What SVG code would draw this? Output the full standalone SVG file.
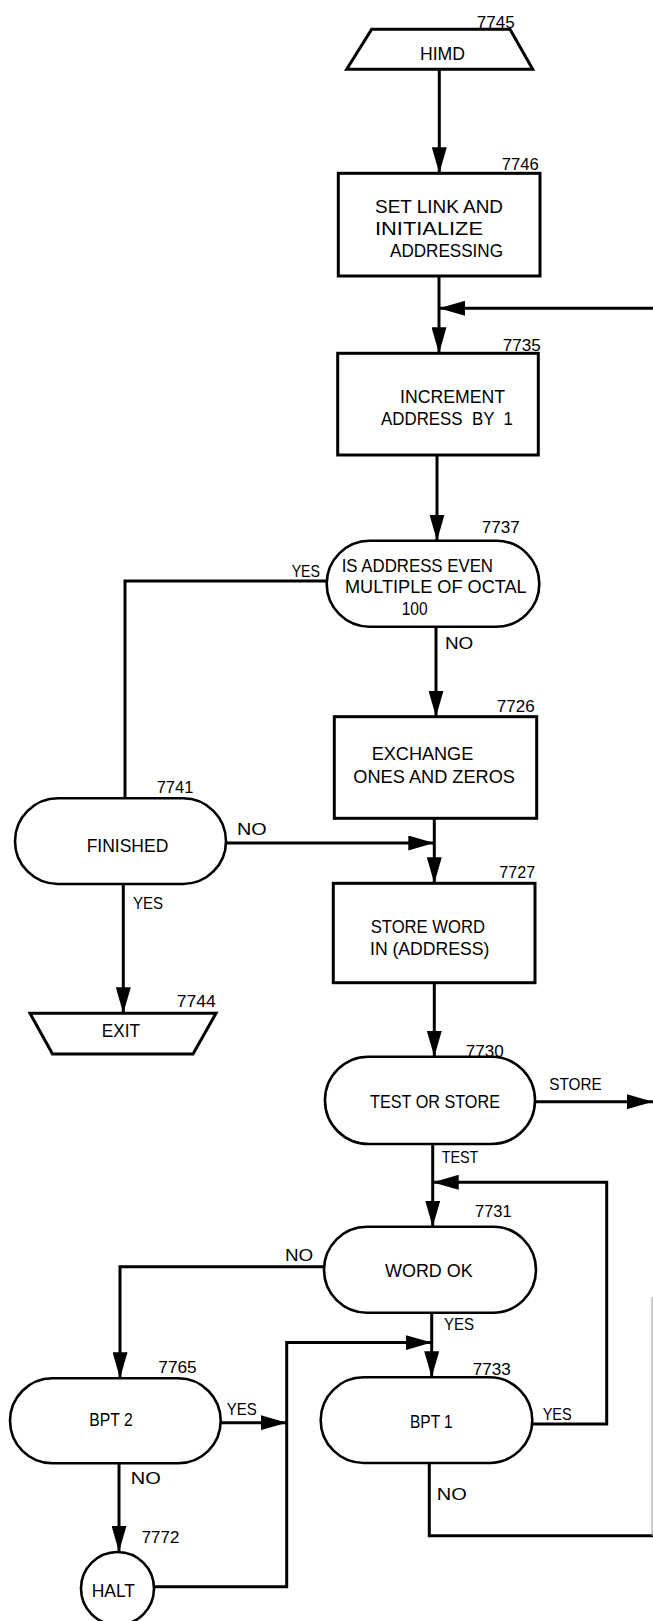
<svg xmlns="http://www.w3.org/2000/svg" width="653" height="1621" viewBox="0 0 653 1621">
<style>
.shape{fill:#fff;stroke:#000;stroke-width:3}
.term{fill:#fff;stroke:#000;stroke-width:2.6}
.conn{fill:none;stroke:#000;stroke-width:3}
.t{font-family:"Liberation Sans",Arial,sans-serif;font-size:18px;fill:#000}
.n{font-family:"Liberation Sans",Arial,sans-serif;font-size:17px;fill:#000}
.l{font-family:"Liberation Sans",Arial,sans-serif;font-size:17px;fill:#000}
</style>
<defs>
<marker id="ah" markerUnits="userSpaceOnUse" markerWidth="26" markerHeight="15" refX="26" refY="7.5" orient="auto">
<path d="M0,0 L26,7.5 L0,15 Z" fill="#000"/>
</marker>
</defs>
<rect width="653" height="1621" fill="#fff"/>
<g id="connectors">
<line class="conn" x1="439.3" y1="69.3" x2="439.3" y2="173.3" marker-end="url(#ah)"/>
<line class="conn" x1="439" y1="276" x2="439" y2="353.3" marker-end="url(#ah)"/>
<line class="conn" x1="653" y1="308.3" x2="439" y2="308.3" marker-end="url(#ah)"/>
<line class="conn" x1="437" y1="455" x2="437" y2="540.7" marker-end="url(#ah)"/>
<polyline class="conn" points="326.7,581 125,581 125,798.3"/>
<line class="conn" x1="436" y1="626.7" x2="436" y2="716.7" marker-end="url(#ah)"/>
<line class="conn" x1="434.3" y1="818.3" x2="434.3" y2="883.3" marker-end="url(#ah)"/>
<line class="conn" x1="226" y1="843" x2="434.3" y2="843" marker-end="url(#ah)"/>
<line class="conn" x1="123.3" y1="884" x2="123.3" y2="1013.3" marker-end="url(#ah)"/>
<line class="conn" x1="434.3" y1="982.7" x2="434.3" y2="1056.7" marker-end="url(#ah)"/>
<line class="conn" x1="535" y1="1101.7" x2="653" y2="1101.7" marker-end="url(#ah)"/>
<line class="conn" x1="432.7" y1="1144" x2="432.7" y2="1226.7" marker-end="url(#ah)"/>
<polyline class="conn" points="532.3,1424 606.7,1424 606.7,1182.3 432.7,1182.3" marker-end="url(#ah)"/>
<polyline class="conn" points="324,1266.7 120,1266.7 120,1378.3" marker-end="url(#ah)"/>
<line class="conn" x1="431.7" y1="1312.7" x2="431.7" y2="1377.3" marker-end="url(#ah)"/>
<line class="conn" x1="220.7" y1="1422.7" x2="286.7" y2="1422.7" marker-end="url(#ah)"/>
<line class="conn" x1="119" y1="1463.3" x2="119" y2="1551.7" marker-end="url(#ah)"/>
<polyline class="conn" points="154,1586.7 286.7,1586.7 286.7,1342.6 431.7,1342.6" marker-end="url(#ah)"/>
<polyline class="conn" points="429.3,1463 429.3,1535.7 653,1535.7"/>
<line x1="652" y1="1297" x2="652" y2="1536" stroke="#999" stroke-width="1"/>
<text class="l" x="291.7" y="576.7" textLength="28.3" lengthAdjust="spacingAndGlyphs">YES</text>
<text class="l" x="445" y="648.5" textLength="28.3" lengthAdjust="spacingAndGlyphs">NO</text>
<text class="l" x="237" y="835" textLength="29.7" lengthAdjust="spacingAndGlyphs">NO</text>
<text class="l" x="133" y="909.3" textLength="30" lengthAdjust="spacingAndGlyphs">YES</text>
<text class="l" x="549.3" y="1090" textLength="52.4" lengthAdjust="spacingAndGlyphs">STORE</text>
<text class="l" x="441.7" y="1162.7" textLength="36.6" lengthAdjust="spacingAndGlyphs">TEST</text>
<text class="l" x="285" y="1260.7" textLength="28.3" lengthAdjust="spacingAndGlyphs">NO</text>
<text class="l" x="444" y="1330" textLength="30" lengthAdjust="spacingAndGlyphs">YES</text>
<text class="l" x="226.7" y="1415" textLength="30" lengthAdjust="spacingAndGlyphs">YES</text>
<text class="l" x="542.7" y="1420" textLength="29" lengthAdjust="spacingAndGlyphs">YES</text>
<text class="l" x="130.7" y="1484" textLength="30" lengthAdjust="spacingAndGlyphs">NO</text>
<text class="l" x="436.7" y="1500" textLength="30" lengthAdjust="spacingAndGlyphs">NO</text>
</g>
<g id="n7745">
<polygon class="shape" points="371.7,29.3 510,29.3 532.7,69.3 346.7,69.3"/>
<text class="t" x="420" y="60" textLength="45" lengthAdjust="spacingAndGlyphs">HIMD</text>
<text class="n" x="476.7" y="28" textLength="38" lengthAdjust="spacingAndGlyphs">7745</text>
</g>
<g id="n7746">
<rect class="shape" x="338.3" y="173.3" width="201.7" height="102.7"/>
<text class="n" x="501.7" y="170" textLength="37" lengthAdjust="spacingAndGlyphs">7746</text>
<text class="t" x="375" y="213" textLength="128" lengthAdjust="spacingAndGlyphs">SET LINK AND</text>
<text class="t" x="375" y="235" textLength="108" lengthAdjust="spacingAndGlyphs">INITIALIZE</text>
<text class="t" x="390" y="257" textLength="113" lengthAdjust="spacingAndGlyphs">ADDRESSING</text>
</g>
<g id="n7735">
<rect class="shape" x="337.7" y="353.3" width="200.6" height="101.7"/>
<text class="n" x="502.7" y="350.7" textLength="38" lengthAdjust="spacingAndGlyphs">7735</text>
<text class="t" x="400" y="403" textLength="105" lengthAdjust="spacingAndGlyphs">INCREMENT</text>
<text class="t" x="381" y="425" textLength="132" lengthAdjust="spacingAndGlyphs" xml:space="preserve">ADDRESS  BY  1</text>
</g>
<g id="n7737">
<rect class="term" x="326.7" y="540.7" width="212.6" height="86" rx="43" ry="43"/>
<text class="n" x="481.7" y="533" textLength="38" lengthAdjust="spacingAndGlyphs">7737</text>
<text class="t" x="341.7" y="571.7" textLength="151.3" lengthAdjust="spacingAndGlyphs">IS ADDRESS EVEN</text>
<text class="t" x="345" y="593" textLength="181.7" lengthAdjust="spacingAndGlyphs">MULTIPLE OF OCTAL</text>
<text class="t" x="401.7" y="615" textLength="26" lengthAdjust="spacingAndGlyphs">100</text>
</g>
<g id="n7726">
<rect class="shape" x="334.3" y="716.7" width="202.4" height="101.6"/>
<text class="n" x="496.7" y="711.7" textLength="38" lengthAdjust="spacingAndGlyphs">7726</text>
<text class="t" x="371.7" y="760" textLength="101.6" lengthAdjust="spacingAndGlyphs">EXCHANGE</text>
<text class="t" x="353.3" y="783.3" textLength="161.7" lengthAdjust="spacingAndGlyphs">ONES AND ZEROS</text>
</g>
<g id="n7741">
<rect class="term" x="15" y="798.3" width="211" height="85.7" rx="43" ry="43"/>
<text class="n" x="156.7" y="793.3" textLength="36.6" lengthAdjust="spacingAndGlyphs">7741</text>
<text class="t" x="86.7" y="851.7" textLength="81.6" lengthAdjust="spacingAndGlyphs">FINISHED</text>
</g>
<g id="n7727">
<rect class="shape" x="333.3" y="883.3" width="201.7" height="99.4"/>
<text class="n" x="499.3" y="878.3" textLength="36" lengthAdjust="spacingAndGlyphs">7727</text>
<text class="t" x="370.7" y="933.3" textLength="114.3" lengthAdjust="spacingAndGlyphs">STORE WORD</text>
<text class="t" x="370" y="955" textLength="119.3" lengthAdjust="spacingAndGlyphs">IN (ADDRESS)</text>
</g>
<g id="n7744">
<polygon class="shape" points="30,1013.3 216,1013.3 193,1054 52.5,1054"/>
<text class="n" x="176.7" y="1007.3" textLength="39" lengthAdjust="spacingAndGlyphs">7744</text>
<text class="t" x="101.7" y="1036.7" textLength="38.3" lengthAdjust="spacingAndGlyphs">EXIT</text>
</g>
<g id="n7730">
<rect class="term" x="325" y="1056.7" width="210" height="87.3" rx="43.5" ry="43.5"/>
<text class="n" x="465.7" y="1056.7" textLength="38" lengthAdjust="spacingAndGlyphs">7730</text>
<text class="t" x="370" y="1108.3" textLength="130" lengthAdjust="spacingAndGlyphs">TEST OR STORE</text>
</g>
<g id="n7731">
<rect class="term" x="324" y="1226.7" width="212" height="86" rx="43" ry="43"/>
<text class="n" x="475" y="1216.7" textLength="36.7" lengthAdjust="spacingAndGlyphs">7731</text>
<text class="t" x="385" y="1276.7" textLength="87.7" lengthAdjust="spacingAndGlyphs">WORD OK</text>
</g>
<g id="n7765">
<rect class="term" x="10" y="1378.3" width="210.7" height="85" rx="42.5" ry="42.5"/>
<text class="n" x="158.3" y="1373.3" textLength="38.4" lengthAdjust="spacingAndGlyphs">7765</text>
<text class="t" x="89.3" y="1426" textLength="43.4" lengthAdjust="spacingAndGlyphs">BPT 2</text>
</g>
<g id="n7733">
<rect class="term" x="320.7" y="1377.3" width="211.6" height="85.7" rx="43" ry="43"/>
<text class="n" x="472.7" y="1375" textLength="38" lengthAdjust="spacingAndGlyphs">7733</text>
<text class="t" x="410" y="1428.3" textLength="42.7" lengthAdjust="spacingAndGlyphs">BPT 1</text>
</g>
<g id="n7772">
<circle class="term" cx="117.5" cy="1588.5" r="36.5"/>
<text class="n" x="141.7" y="1543" textLength="37.6" lengthAdjust="spacingAndGlyphs">7772</text>
<text class="t" x="91.7" y="1596.7" textLength="43.3" lengthAdjust="spacingAndGlyphs">HALT</text>
</g>
</svg>
